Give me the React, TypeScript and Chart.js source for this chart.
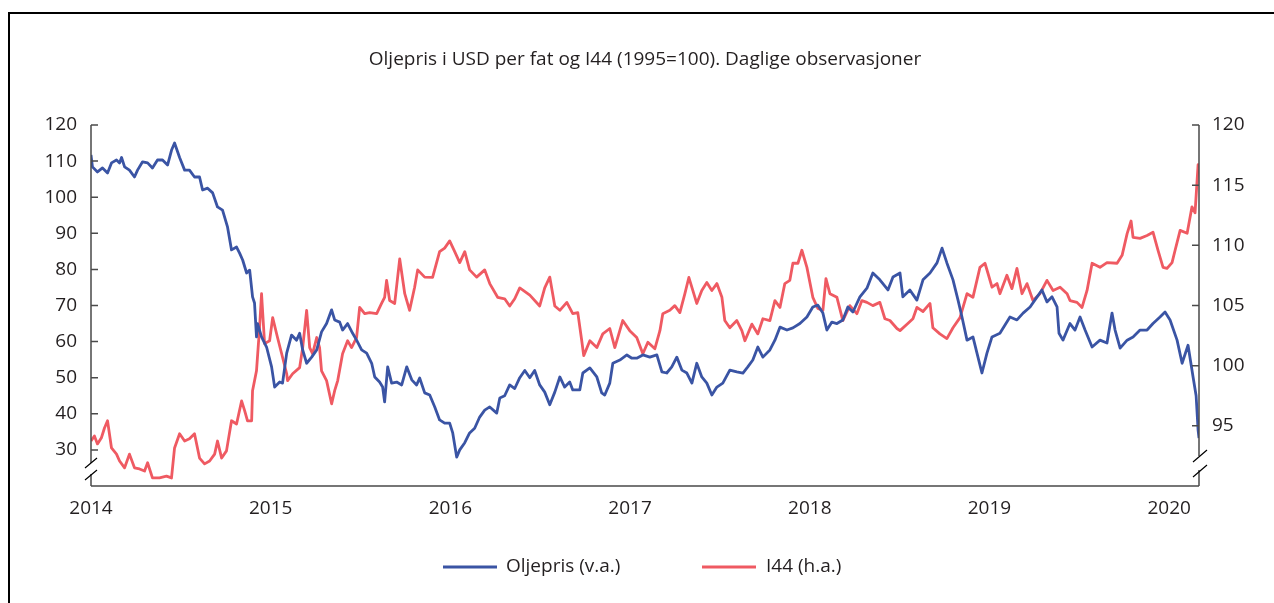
import React, { useEffect, useRef } from 'react';
import { Chart, registerables } from 'chart.js';

Chart.register(...registerables);

const FONT = '"Open Sans", "DejaVu Sans", sans-serif';
const TEXT = '#231f20';
const AXIS = '#4a4a4a';
const BLUE = '#3a54a4';
const RED = '#ef5a62';

const chartTitle = 'Oljepris i USD per fat og I44 (1995=100). Daglige observasjoner';
const seriesNames = ['Oljepris (v.a.)', 'I44 (h.a.)'];
const xTickYears = [2014, 2015, 2016, 2017, 2018, 2019, 2020];
const leftTicks = [30, 40, 50, 60, 70, 80, 90, 100, 110, 120];
const rightTicks = [95, 100, 105, 110, 115, 120];

// Oljepris (USD per fat), venstre akse
const oilYears = [
  2014.000, 2014.008, 2014.036, 2014.064, 2014.092, 2014.114, 2014.142, 2014.159, 2014.170, 2014.187,
  2014.214, 2014.242, 2014.259, 2014.287, 2014.315, 2014.342, 2014.370, 2014.398, 2014.426, 2014.448,
  2014.465, 2014.493, 2014.521, 2014.548, 2014.576, 2014.604, 2014.621, 2014.649, 2014.677, 2014.704,
  2014.732, 2014.760, 2014.782, 2014.810, 2014.827, 2014.844, 2014.866, 2014.883, 2014.899, 2014.910,
  2014.921, 2014.927, 2014.949, 2014.977, 2015.005, 2015.022, 2015.050, 2015.066, 2015.089, 2015.116,
  2015.144, 2015.161, 2015.178, 2015.200, 2015.228, 2015.256, 2015.283, 2015.311, 2015.339, 2015.356,
  2015.384, 2015.400, 2015.428, 2015.456, 2015.478, 2015.506, 2015.534, 2015.562, 2015.579, 2015.606,
  2015.623, 2015.634, 2015.651, 2015.673, 2015.701, 2015.729, 2015.757, 2015.785, 2015.812, 2015.829,
  2015.857, 2015.885, 2015.913, 2015.940, 2015.968, 2015.996, 2016.013, 2016.035, 2016.052, 2016.080,
  2016.107, 2016.135, 2016.163, 2016.191, 2016.219, 2016.258, 2016.275, 2016.302, 2016.330, 2016.358,
  2016.386, 2016.414, 2016.442, 2016.469, 2016.497, 2016.525, 2016.553, 2016.581, 2016.609, 2016.636,
  2016.664, 2016.681, 2016.720, 2016.737, 2016.776, 2016.815, 2016.842, 2016.859, 2016.887, 2016.904,
  2016.943, 2016.982, 2017.010, 2017.037, 2017.071, 2017.110, 2017.149, 2017.177, 2017.204, 2017.232,
  2017.260, 2017.288, 2017.316, 2017.344, 2017.371, 2017.399, 2017.427, 2017.455, 2017.483, 2017.516,
  2017.555, 2017.594, 2017.628, 2017.655, 2017.683, 2017.711, 2017.739, 2017.778, 2017.806, 2017.834,
  2017.873, 2017.906, 2017.945, 2017.984, 2018.017, 2018.045, 2018.073, 2018.095, 2018.123, 2018.151,
  2018.184, 2018.212, 2018.240, 2018.279, 2018.318, 2018.351, 2018.390, 2018.435, 2018.463, 2018.502,
  2018.518, 2018.557, 2018.596, 2018.630, 2018.669, 2018.708, 2018.736, 2018.763, 2018.797, 2018.825,
  2018.847, 2018.875, 2018.908, 2018.936, 2018.958, 2018.986, 2019.014, 2019.058, 2019.114, 2019.153,
  2019.187, 2019.226, 2019.265, 2019.292, 2019.320, 2019.348, 2019.376, 2019.387, 2019.409, 2019.448,
  2019.476, 2019.504, 2019.532, 2019.571, 2019.615, 2019.654, 2019.682, 2019.699, 2019.727, 2019.766,
  2019.799, 2019.838, 2019.877, 2019.910, 2019.949, 2019.977, 2020.005, 2020.044, 2020.072, 2020.105,
  2020.133, 2020.150, 2020.161, 2020.166,
];
const oilPrice = [
  111.7, 108.4, 107, 108.1, 106.7, 109.5, 110.3, 109.5, 111, 108.4,
  107.5, 105.6, 107.5, 109.8, 109.5, 108.1, 110.3, 110.3, 108.9, 113,
  115, 111, 107.5, 107.5, 105.6, 105.6, 102, 102.5, 101.2, 97.3,
  96.4, 91.7, 85.4, 86.2, 84.5, 82.6, 79, 79.8, 72.4, 70.7,
  61.3, 65, 61.3, 58.5, 53, 47.4, 48.8, 48.5, 56.8, 61.8,
  60.4, 62.3, 57.7, 54, 55.7, 57.7, 62.7, 65, 68.8, 66,
  65.4, 63.2, 65, 62.3, 60.4, 57.7, 56.8, 54, 50.2, 48.8,
  47.4, 43.3, 53, 48.5, 48.8, 48, 53, 49.4, 48, 49.9,
  45.8, 45.2, 41.9, 38.3, 37.4, 37.4, 34.7, 28, 30, 32,
  34.7, 36, 39.1, 41, 41.9, 40.2, 44.4, 45, 48, 47,
  50, 52, 50, 52, 48, 46, 42.5, 46, 50.2, 47.4,
  48.8, 46.6, 46.6, 51.3, 52.7, 50.2, 45.8, 45.2, 48.5, 54,
  54.9, 56.3, 55.4, 55.4, 56.3, 55.7, 56.3, 51.6, 51.3, 53,
  55.7, 52.1, 51.3, 48.5, 54, 50.2, 48.5, 45.2, 47.4, 48.5,
  52.1, 51.6, 51.3, 53, 54.9, 58.5, 55.7, 57.7, 60.4, 64,
  63.2, 63.8, 65, 66.8, 69.6, 70.1, 67.9, 63.2, 65.4, 65,
  66, 69.6, 68.2, 72.4, 74.8, 79, 77.1, 74.3, 77.9, 79,
  72.4, 74.3, 71.5, 77.1, 79, 81.8, 85.9, 81.8, 77.1, 71.5,
  66.8, 60.4, 61.3, 55.7, 51.3, 56.8, 61.3, 62.3, 66.8, 66,
  67.9, 69.6, 72.4, 74.3, 71, 72.4, 69.6, 62.3, 60.4, 65,
  63.2, 66.8, 63.2, 58.5, 60.4, 59.6, 67.9, 63.2, 58.2, 60.4,
  61.3, 63.2, 63.2, 65, 66.8, 68.2, 66, 60.4, 54, 59,
  50.2, 45, 35.5, 33.3,
];

// I44 (1995=100), høyre akse
const i44Years = [
  2014.000, 2014.019, 2014.036, 2014.058, 2014.075, 2014.092, 2014.114, 2014.142, 2014.159, 2014.187,
  2014.214, 2014.242, 2014.270, 2014.298, 2014.315, 2014.342, 2014.381, 2014.420, 2014.448, 2014.465,
  2014.493, 2014.521, 2014.548, 2014.576, 2014.604, 2014.632, 2014.660, 2014.688, 2014.704, 2014.727,
  2014.754, 2014.782, 2014.810, 2014.838, 2014.855, 2014.871, 2014.894, 2014.899, 2014.921, 2014.938,
  2014.949, 2014.966, 2014.994, 2015.011, 2015.038, 2015.061, 2015.089, 2015.094, 2015.122, 2015.161,
  2015.178, 2015.200, 2015.217, 2015.233, 2015.256, 2015.272, 2015.283, 2015.311, 2015.339, 2015.356,
  2015.373, 2015.400, 2015.428, 2015.450, 2015.478, 2015.495, 2015.523, 2015.551, 2015.590, 2015.617,
  2015.634, 2015.645, 2015.662, 2015.690, 2015.718, 2015.746, 2015.773, 2015.801, 2015.818, 2015.857,
  2015.901, 2015.940, 2015.968, 2015.996, 2016.024, 2016.052, 2016.080, 2016.107, 2016.146, 2016.191,
  2016.219, 2016.263, 2016.302, 2016.330, 2016.358, 2016.386, 2016.442, 2016.497, 2016.525, 2016.553,
  2016.581, 2016.609, 2016.648, 2016.681, 2016.709, 2016.731, 2016.742, 2016.776, 2016.815, 2016.848,
  2016.887, 2016.915, 2016.959, 2016.998, 2017.037, 2017.071, 2017.099, 2017.138, 2017.166, 2017.182,
  2017.221, 2017.249, 2017.277, 2017.305, 2017.327, 2017.349, 2017.371, 2017.399, 2017.427, 2017.455,
  2017.483, 2017.511, 2017.527, 2017.555, 2017.594, 2017.622, 2017.639, 2017.678, 2017.711, 2017.739,
  2017.778, 2017.806, 2017.834, 2017.861, 2017.889, 2017.906, 2017.934, 2017.956, 2017.984, 2018.017,
  2018.045, 2018.073, 2018.090, 2018.112, 2018.151, 2018.184, 2018.223, 2018.262, 2018.290, 2018.318,
  2018.351, 2018.390, 2018.418, 2018.446, 2018.485, 2018.502, 2018.541, 2018.574, 2018.596, 2018.630,
  2018.669, 2018.685, 2018.724, 2018.763, 2018.797, 2018.836, 2018.875, 2018.908, 2018.947, 2018.975,
  2018.992, 2019.014, 2019.042, 2019.058, 2019.097, 2019.125, 2019.153, 2019.181, 2019.209, 2019.242,
  2019.281, 2019.320, 2019.354, 2019.393, 2019.432, 2019.448, 2019.487, 2019.515, 2019.543, 2019.571,
  2019.615, 2019.654, 2019.710, 2019.738, 2019.766, 2019.788, 2019.799, 2019.838, 2019.877, 2019.910,
  2019.938, 2019.966, 2019.988, 2020.016, 2020.033, 2020.061, 2020.100, 2020.127, 2020.144, 2020.161,
  2020.166,
];
const i44Index = [
  93.74, 94.16, 93.5, 94.01, 94.82, 95.42, 93.16, 92.65, 92.08, 91.51,
  92.65, 91.51, 91.42, 91.24, 91.93, 90.67, 90.67, 90.82, 90.67, 93.16,
  94.34, 93.74, 93.92, 94.34, 92.32, 91.84, 92.08, 92.65, 93.74, 92.32,
  92.92, 95.42, 95.15, 97.07, 96.26, 95.42, 95.42, 97.92, 99.57, 103.15,
  105.98, 101.83, 102.07, 103.99, 102.34, 100.99, 99.33, 98.76, 99.33, 99.84,
  101.5, 104.6, 101.5, 100.99, 102.34, 101.5, 99.57, 98.76, 96.83, 97.92,
  98.76, 100.99, 102.07, 101.5, 102.34, 104.84, 104.32, 104.41, 104.32, 105.17,
  105.68, 107.09, 105.41, 105.17, 108.87, 105.98, 104.6, 106.52, 107.96, 107.36,
  107.33, 109.47, 109.77, 110.37, 109.47, 108.57, 109.47, 107.96, 107.36, 107.96,
  106.82, 105.68, 105.56, 104.96, 105.56, 106.46, 105.86, 104.96, 106.46, 107.36,
  104.96, 104.6, 105.26, 104.32, 104.41, 102.07, 100.83, 102.07, 101.5, 102.64,
  103.09, 101.5, 103.75, 102.91, 102.34, 100.99, 101.95, 101.41, 102.91, 104.32,
  104.6, 104.99, 104.41, 105.98, 107.33, 106.25, 105.17, 106.25, 106.91, 106.25,
  106.82, 105.68, 103.75, 103.15, 103.75, 102.91, 102.07, 103.45, 102.64, 103.9,
  103.75, 105.41, 104.84, 106.82, 107.09, 108.51, 108.51, 109.59, 108.17, 105.68,
  104.75, 104.6, 107.24, 105.98, 105.68, 103.75, 104.99, 104.32, 105.41, 105.26,
  104.99, 105.26, 103.9, 103.75, 103.09, 102.91, 103.45, 103.9, 104.84, 104.5,
  105.17, 103.15, 102.64, 102.25, 103.15, 103.99, 105.98, 105.68, 108.17, 108.51,
  107.66, 106.52, 106.82, 105.98, 107.51, 106.4, 108.08, 105.98, 106.82, 105.41,
  105.98, 107.09, 106.25, 106.52, 105.98, 105.41, 105.26, 104.84, 106.25, 108.51,
  108.17, 108.57, 108.51, 109.17, 110.97, 112.02, 110.67, 110.58, 110.82, 111.09,
  109.59, 108.17, 108.08, 108.57, 109.59, 111.24, 111.0, 113.2, 112.7, 116.7,
  116.4,
];

const decorPlugin = {
  id: 'decor',
  afterDraw(chart: any) {
    const ctx = chart.ctx as CanvasRenderingContext2D;
    const { left, right, top, bottom } = chart.chartArea;
    const yl = chart.scales.y;
    const yr = chart.scales.y1;
    ctx.save();

    // frame (top and left)
    ctx.fillStyle = '#000';
    ctx.fillRect(8, 12, chart.width - 8, 2);
    ctx.fillRect(8, 12, 2, chart.height - 12);

    // axes
    ctx.strokeStyle = AXIS;
    ctx.lineWidth = 1.5;
    ctx.beginPath();
    ctx.moveTo(left, top);
    ctx.lineTo(left, bottom);
    ctx.moveTo(right, top);
    ctx.lineTo(right, bottom);
    ctx.moveTo(left, bottom);
    ctx.lineTo(right, bottom);
    leftTicks.forEach((v) => {
      const y = yl.getPixelForValue(v);
      ctx.moveTo(left, y);
      ctx.lineTo(left + 7, y);
    });
    rightTicks.forEach((v) => {
      const y = yr.getPixelForValue(v);
      ctx.moveTo(right, y);
      ctx.lineTo(right - 7, y);
    });
    ctx.stroke();

    // axis breaks
    ctx.fillStyle = '#fff';
    ctx.fillRect(left - 2, 463, 4, 11);
    ctx.fillRect(right - 2, 456, 4, 14);
    ctx.strokeStyle = '#000';
    ctx.lineWidth = 1.2;
    ctx.beginPath();
    ctx.moveTo(left - 6, 468);
    ctx.lineTo(left + 6, 458);
    ctx.moveTo(left - 6, 480);
    ctx.lineTo(left + 6, 470);
    ctx.moveTo(right - 6, 462);
    ctx.lineTo(right + 8, 450);
    ctx.moveTo(right - 6, 477);
    ctx.lineTo(right + 8, 465);
    ctx.stroke();

    // title
    ctx.fillStyle = TEXT;
    ctx.font = `19px ${FONT}`;
    ctx.textAlign = 'center';
    ctx.textBaseline = 'middle';
    ctx.fillText(chartTitle, 645, 60);

    // legend
    const legendY = 567;
    const items = [
      { color: BLUE, x0: 443, x1: 497, tx: 506, label: seriesNames[0] },
      { color: RED, x0: 702, x1: 756, tx: 766, label: seriesNames[1] },
    ];
    ctx.font = `19px ${FONT}`;
    ctx.textAlign = 'left';
    items.forEach((it) => {
      ctx.strokeStyle = it.color;
      ctx.lineWidth = 3;
      ctx.beginPath();
      ctx.moveTo(it.x0, legendY);
      ctx.lineTo(it.x1, legendY);
      ctx.stroke();
      ctx.fillStyle = TEXT;
      ctx.fillText(it.label, it.tx, legendY);
    });

    ctx.restore();
  },
};

export default function App() {
  const canvasRef = useRef<HTMLCanvasElement | null>(null);

  useEffect(() => {
    const canvas = canvasRef.current;
    if (!canvas) return;
    const tickFont = { family: FONT, size: 19 };
    const chart = new Chart(canvas, {
      type: 'line',
      data: {
        datasets: [
          {
            label: seriesNames[0],
            data: oilYears.map((x, i) => ({ x, y: oilPrice[i] })),
            borderColor: BLUE,
            backgroundColor: BLUE,
            borderWidth: 2.8,
            pointRadius: 0,
            tension: 0,
            borderJoinStyle: 'round',
            yAxisID: 'y',
          },
          {
            label: seriesNames[1],
            data: i44Years.map((x, i) => ({ x, y: i44Index[i] })),
            borderColor: RED,
            backgroundColor: RED,
            borderWidth: 2.8,
            pointRadius: 0,
            tension: 0,
            borderJoinStyle: 'round',
            yAxisID: 'y1',
          },
        ],
      },
      options: {
        animation: false,
        responsive: false,
        devicePixelRatio: 1,
        events: [],
        layout: { padding: { top: 125, left: 0, right: 0, bottom: 0 } },
        plugins: {
          legend: { display: false },
          title: { display: false },
          tooltip: { enabled: false },
        },
        scales: {
          x: {
            type: 'linear',
            min: 2014,
            max: 2020.166,
            afterFit: (s: any) => {
              s.height = 117;
            },
            afterBuildTicks: (s: any) => {
              s.ticks = xTickYears.map((v) => ({ value: v }));
            },
            ticks: {
              font: tickFont,
              color: TEXT,
              padding: 11,
              maxRotation: 0,
              autoSkip: false,
              callback: (v: any) => String(v),
            },
            grid: { display: false, drawTicks: false },
            border: { display: false },
          },
          y: {
            type: 'linear',
            position: 'left',
            min: 20,
            max: 120,
            afterFit: (s: any) => {
              s.width = 91;
            },
            afterBuildTicks: (s: any) => {
              s.ticks = leftTicks.map((v) => ({ value: v }));
            },
            ticks: { font: tickFont, color: TEXT, padding: 14, autoSkip: false },
            grid: { display: false, drawTicks: false },
            border: { display: false },
          },
          y1: {
            type: 'linear',
            position: 'right',
            min: 90,
            max: 120,
            afterFit: (s: any) => {
              s.width = 75;
            },
            afterBuildTicks: (s: any) => {
              s.ticks = rightTicks.map((v) => ({ value: v }));
            },
            ticks: { font: tickFont, color: TEXT, padding: 13, autoSkip: false },
            grid: { display: false, drawTicks: false },
            border: { display: false },
          },
        },
      } as any,
      plugins: [decorPlugin],
    });
    return () => chart.destroy();
  }, []);

  return (
    <div style={{ position: 'fixed', left: 0, top: 0, width: 1274, height: 603, background: '#fff' }}>
      <canvas ref={canvasRef} width={1274} height={603} style={{ display: 'block' }} />
    </div>
  );
}
